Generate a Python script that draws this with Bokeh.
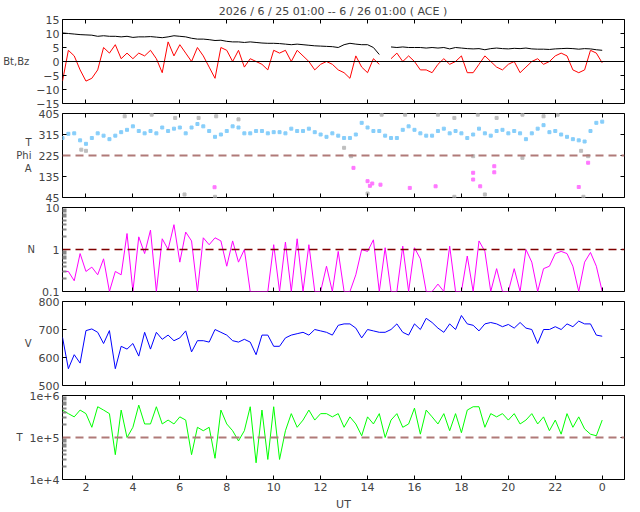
import numpy as np
from bokeh.plotting import figure
from bokeh.layouts import column
from bokeh.models import (Range1d, FixedTicker, Span, LinearAxis, LogAxis,
                          CustomJSTickFormatter)
from bokeh.embed import file_html
from bokeh.resources import INLINE

# time grid: hours 1..24 every 15 min
hours = np.arange(1.0, 24.001, 0.25)

bt = [10.2, 10.0, 9.8, 9.6, 9.5, 9.4, 9.0, 9.2, 9.0, 9.0, 8.8, 9.0, 8.6, 8.8, 8.8, 8.9,
      8.7, 8.5, 8.8, 9.2, 9.0, 8.8, 8.3, 8.0, 8.0, 7.8, 7.5, 7.6, 7.2, 7.0, 7.0, 6.8,
      7.0, 6.8, 6.6, 6.5, 6.5, 6.4, 6.2, 6.0, 6.2, 6.0, 5.8, 5.6, 5.5, 5.4, 5.3, 5.0,
      6.0, 6.5, 6.2, 6.0, 6.0, 5.0, 2.5, np.nan, 5.2, 5.0, 5.2, 5.0, 5.0, 5.0, 4.8, 5.0,
      4.8, 5.0, 4.5, 5.0, 4.8, 4.6, 4.5, 4.6, 4.2, 4.6, 4.8, 4.6, 4.5, 4.7, 4.6, 4.8,
      4.5, 4.4, 4.4, 4.3, 4.5, 4.6, 4.7, 4.6, 4.4, 4.6, 4.5, 4.2, 4.0]
bz = [-7, 4, 2, -3, -7, -6, -3, 5, 3, 6, 1, 3, 1, 3, 2, 4,
      1, -4, 7, 2, 6, 3, 0, 5, 2, -2, -6, 5, 4, 0, 4, -2,
      1, 0, -1, -3, 4, 3, 4, 0, 4, 2, 0, -3, -1, 0, -1, -3,
      -4, -6, 2, -2, -4, 1, -1, np.nan, 1, 3, 0, 2, 0, -3, -3, -4,
      -1, 1, -1, 0, 2, -4, -4, -1, 2, 0, -2, -3, -1, 0, -4, -2,
      0, 1, -1, 0, 2, 3, 2, -3, -4, -3, 4, 3, -0.5]
phi = [300, 318, 320, 290, 275, 300, 320, 310, 295, 310, 325, 335, 350, 330, 320, 330,
       320, 345, 330, 340, 345, 320, 345, 360, 350, 330, 305, 315, 330, 350, 345, 320,
       320, 330, 330, 320, 325, 325, 320, 340, 330, 330, 340, 325, 315, 305, 320, 310,
       300, 300, 315, 365, 345, 330, 330, 310, 300, 300, 335, 350, 335, 320, 310, 310,
       330, 340, 320, 330, 320, 300, 315, 340, 320, 310, 330, 335, 320, 330, 320, 295,
       320, 340, 355, 325, 330, 315, 305, 295, 290, 285, 330, 365, 370]
grey_t = [1.8, 2.0, 3.65, 4.8, 5.8, 6.2, 6.8, 7.5, 7.55, 8.5, 13.0, 13.3, 14.0, 14.6, 15.6,
          17.0, 17.7, 17.7, 18.5, 18.7, 19.0, 19.5, 20.6, 20.6, 21.5, 22.1, 23.1, 23.2, 23.4]
grey_v = [250, 245, 393, 400, 386, 58, 386, 48, 393, 380, 258, 222, 62, 400, 400,
          400, 386, 48, 222, 400, 58, 386, 400, 215, 393, 400, 245, 48, 222]
mag_t = [7.48, 13.4, 14.0, 14.1, 14.2, 14.55, 15.8, 16.9, 18.5, 18.5, 18.8, 19.4, 19.4, 23.0, 23.4]
mag_v = [89, 172, 115, 95, 105, 100, 86, 93, 122, 151, 93, 179, 153, 90, 194]
dens = [0.3, 0.3, 0.18, 0.8, 0.3, 0.38, 0.25, 0.6, 0.1, 0.3, 0.25, 2.4, 0.1, 2.0, 0.8, 2.9,
        0.1, 1.8, 1.0, 3.9, 0.5, 2.6, 1.6, 0.1, 1.9, 1.3, 1.9, 1.6, 0.4, 1.6, 0.5, 1.0,
        0.1, 0.1, 0.1, 0.1, 1.3, 0.1, 1.5, 0.1, 1.8, 0.1, 1.3, 0.1, 0.1, 0.4, 0.1, 0.9,
        0.1, 0.1, 0.25, 1.0, 0.9, 1.7, 0.1, 1.1, 0.1, 0.1, 1.2, 0.1, 1.1, 0.6, 0.1, 0.1,
        0.15, 0.1, 1.2, 0.1, 0.1, 0.7, 0.1, 1.6, 0.9, 0.1, 0.35, 0.1, 0.1, 0.35, 0.1, 1.0,
        0.5, 0.1, 0.35, 0.4, 0.8, 0.9, 0.8, 0.4, 0.1, 0.5, 0.85, 0.4, 0.1]
speed = [672, 560, 610, 580, 696, 702, 690, 650, 696, 560, 640, 630, 650, 605, 690, 630,
         690, 665, 680, 660, 670, 695, 620, 660, 660, 655, 700, 690, 680, 660, 655, 665,
         655, 610, 680, 680, 640, 640, 670, 680, 685, 690, 680, 700, 695, 690, 680, 715,
         720, 720, 705, 670, 700, 695, 690, 690, 700, 720, 690, 680, 720, 700, 740, 725,
         705, 690, 720, 700, 750, 720, 715, 695, 720, 725, 720, 710, 718, 705, 725, 705,
         700, 650, 700, 700, 710, 700, 720, 710, 730, 720, 720, 680, 676]
temp = [4.5e5, 3.7e5, 3.1e5, 4.5e5, 3.7e5, 1.75e5, 5.4e5, 4.5e5, 3.7e5, 3.9e4, 4.5e5, 1.0e5,
        1.75e5, 5.9e5, 2.1e5, 2.1e5, 5.4e5, 2.1e5, 2.6e5, 2.1e5, 3.1e5, 2.6e5, 3.9e4, 1.75e5,
        1.45e5, 1.75e5, 3.2e4, 4.5e5, 2.1e5, 1.45e5, 8.3e4, 1.45e5, 5.4e5, 2.5e4, 4.5e5, 3.0e4,
        5.4e5, 3.0e4, 1.45e5, 3.7e5, 1.75e5, 2.6e5, 4.5e5, 2.6e5, 3.7e5, 3.7e5, 3.1e5, 3.7e5,
        1.75e5, 3.1e5, 2.1e5, 1.1e5, 3.1e5, 2.1e5, 3.7e5, 1.0e5, 2.6e5, 3.7e5, 1.75e5, 2.1e5,
        5.0e5, 1.2e5, 4.5e5, 3.1e5, 2.1e5, 3.7e5, 1.45e5, 3.7e5, 1.3e5, 4.5e5, 5.4e5, 5.4e5,
        1.75e5, 3.7e5, 3.1e5, 3.7e5, 2.6e5, 3.7e5, 2.1e5, 2.6e5, 3.7e5, 2.1e5, 3.1e5, 1.45e5,
        2.6e5, 1.2e5, 3.7e5, 1.75e5, 3.1e5, 1.6e5, 1.2e5, 1.1e5, 2.6e5]
x_ticks = [2, 4, 6, 8, 10, 12, 14, 16, 18, 20, 22, 24]

FONT = "DejaVu Sans"
FS = "11px"
xr = Range1d(1, 24.95)


def style_axis(ax, show_labels):
    ax.major_tick_in = 4
    ax.major_tick_out = 0
    ax.minor_tick_in = 0
    ax.minor_tick_out = 0
    ax.axis_line_color = None
    ax.major_tick_line_color = "black"
    ax.major_label_text_font = FONT
    ax.major_label_text_font_size = FS
    ax.major_label_standoff = 3 if show_labels else 0
    if not show_labels:
        ax.major_label_text_font_size = "1px"
        ax.major_label_text_alpha = 0
        ax.major_label_standoff = 0
    ax.axis_label_text_font = FONT
    ax.axis_label_text_font_size = FS
    ax.axis_label_text_font_style = "normal"


def make(yrange, yticks, label, ylog=False, top=5, bottom=5, xlabels=False,
         overrides=None):
    p = figure(frame_width=562, frame_height=84, x_range=xr, y_range=yrange,
               y_axis_type="log" if ylog else "linear",
               output_backend="svg", toolbar_location=None,
               min_border_left=62, min_border_right=5,
               min_border_top=top, min_border_bottom=bottom)
    p.grid.visible = False
    p.outline_line_color = "black"
    p.outline_line_alpha = 1
    bx = p.below[0]
    bx.ticker = FixedTicker(ticks=x_ticks)
    style_axis(bx, xlabels)
    if xlabels:
        bx.formatter = CustomJSTickFormatter(code="return String(tick % 24);")
    ly = p.left[0]
    ly.ticker = FixedTicker(ticks=yticks)
    style_axis(ly, True)
    if ylog:
        ly.minor_tick_in = 4
        ly.minor_tick_line_color = "#888888"
        ly.minor_tick_line_width = 2
        ly.ticker = FixedTicker(ticks=yticks, minor_ticks=[
            m * 10.0 ** e for e in range(-2, 8) for m in range(2, 10)])
    if overrides:
        ly.major_label_overrides = overrides
    ly.axis_label = label
    ly.axis_label_orientation = "horizontal"
    ly.axis_label_standoff = 4
    ly.axis_label_text_font_size = "10px"
    rax = (LogAxis if ylog else LinearAxis)(ticker=FixedTicker(ticks=yticks))
    style_axis(rax, False)
    p.add_layout(rax, "right")
    tax = LinearAxis(ticker=FixedTicker(ticks=x_ticks))
    style_axis(tax, False)
    p.add_layout(tax, "above")
    return p


# Panel 1
p1 = make(Range1d(-15, 15), [-15, -10, -5, 0, 5, 10, 15], "Bt,Bz", top=0)
p1.title.text = "2026 /  6 / 25   01:00 --  6 / 26   01:00 ( ACE )"
p1.title.align = "center"
p1.title.text_font = FONT
p1.title.text_font_size = FS
p1.title.text_font_style = "normal"
p1.title.standoff = 4
p1.add_layout(Span(location=0, dimension="width", line_color="black", line_width=1))
p1.line(hours, bt, color="black", line_width=1)
p1.line(hours, bz, color="red", line_width=1)

# Panel 2
p2 = make(Range1d(45, 405), [45, 135, 225, 315, 405], "T\nPhi\nA")
p2.add_layout(Span(location=225, dimension="width", line_color="#B07A78",
                   line_width=2, line_dash="8 5"))
p2.scatter(hours, phi, marker="square", size=3, color="#87CEFA")
p2.scatter(grey_t, grey_v, marker="square", size=3, color="#BEBEBE")
p2.scatter(mag_t, mag_v, marker="square", size=3, color="#FF77FF")

# Panel 3
p3 = make(Range1d(0.1, 10), [0.1, 1, 10], "N", ylog=True,
          overrides={0.1: "0.1", 1: "1", 10: "10"})
p3.add_layout(Span(location=1, dimension="width", line_color="#800000",
                   line_width=1.5, line_dash="8 5"))
p3.line(hours, dens, color="#FF00FF", line_width=1)

# Panel 4
p4 = make(Range1d(500, 800), [500, 600, 700, 800], "V")
p4.line(hours, speed, color="#0000FF", line_width=1)

# Panel 5
p5 = make(Range1d(1e4, 1e6), [1e4, 1e5, 1e6], "T", ylog=True, xlabels=True,
          overrides={1e4: "1e+4", 1e5: "1e+5", 1e6: "1e+6"})
p5.below[0].axis_label = "UT"
p5.below[0].axis_label_standoff = 4
p5.add_layout(Span(location=1e5, dimension="width", line_color="#B07A78",
                   line_width=2, line_dash="8 5"))
p5.line(hours, temp, color="#00FF00", line_width=1)

lay = column(p1, p2, p3, p4, p5, spacing=0)
open("out.html", "w").write(file_html(lay, INLINE))
